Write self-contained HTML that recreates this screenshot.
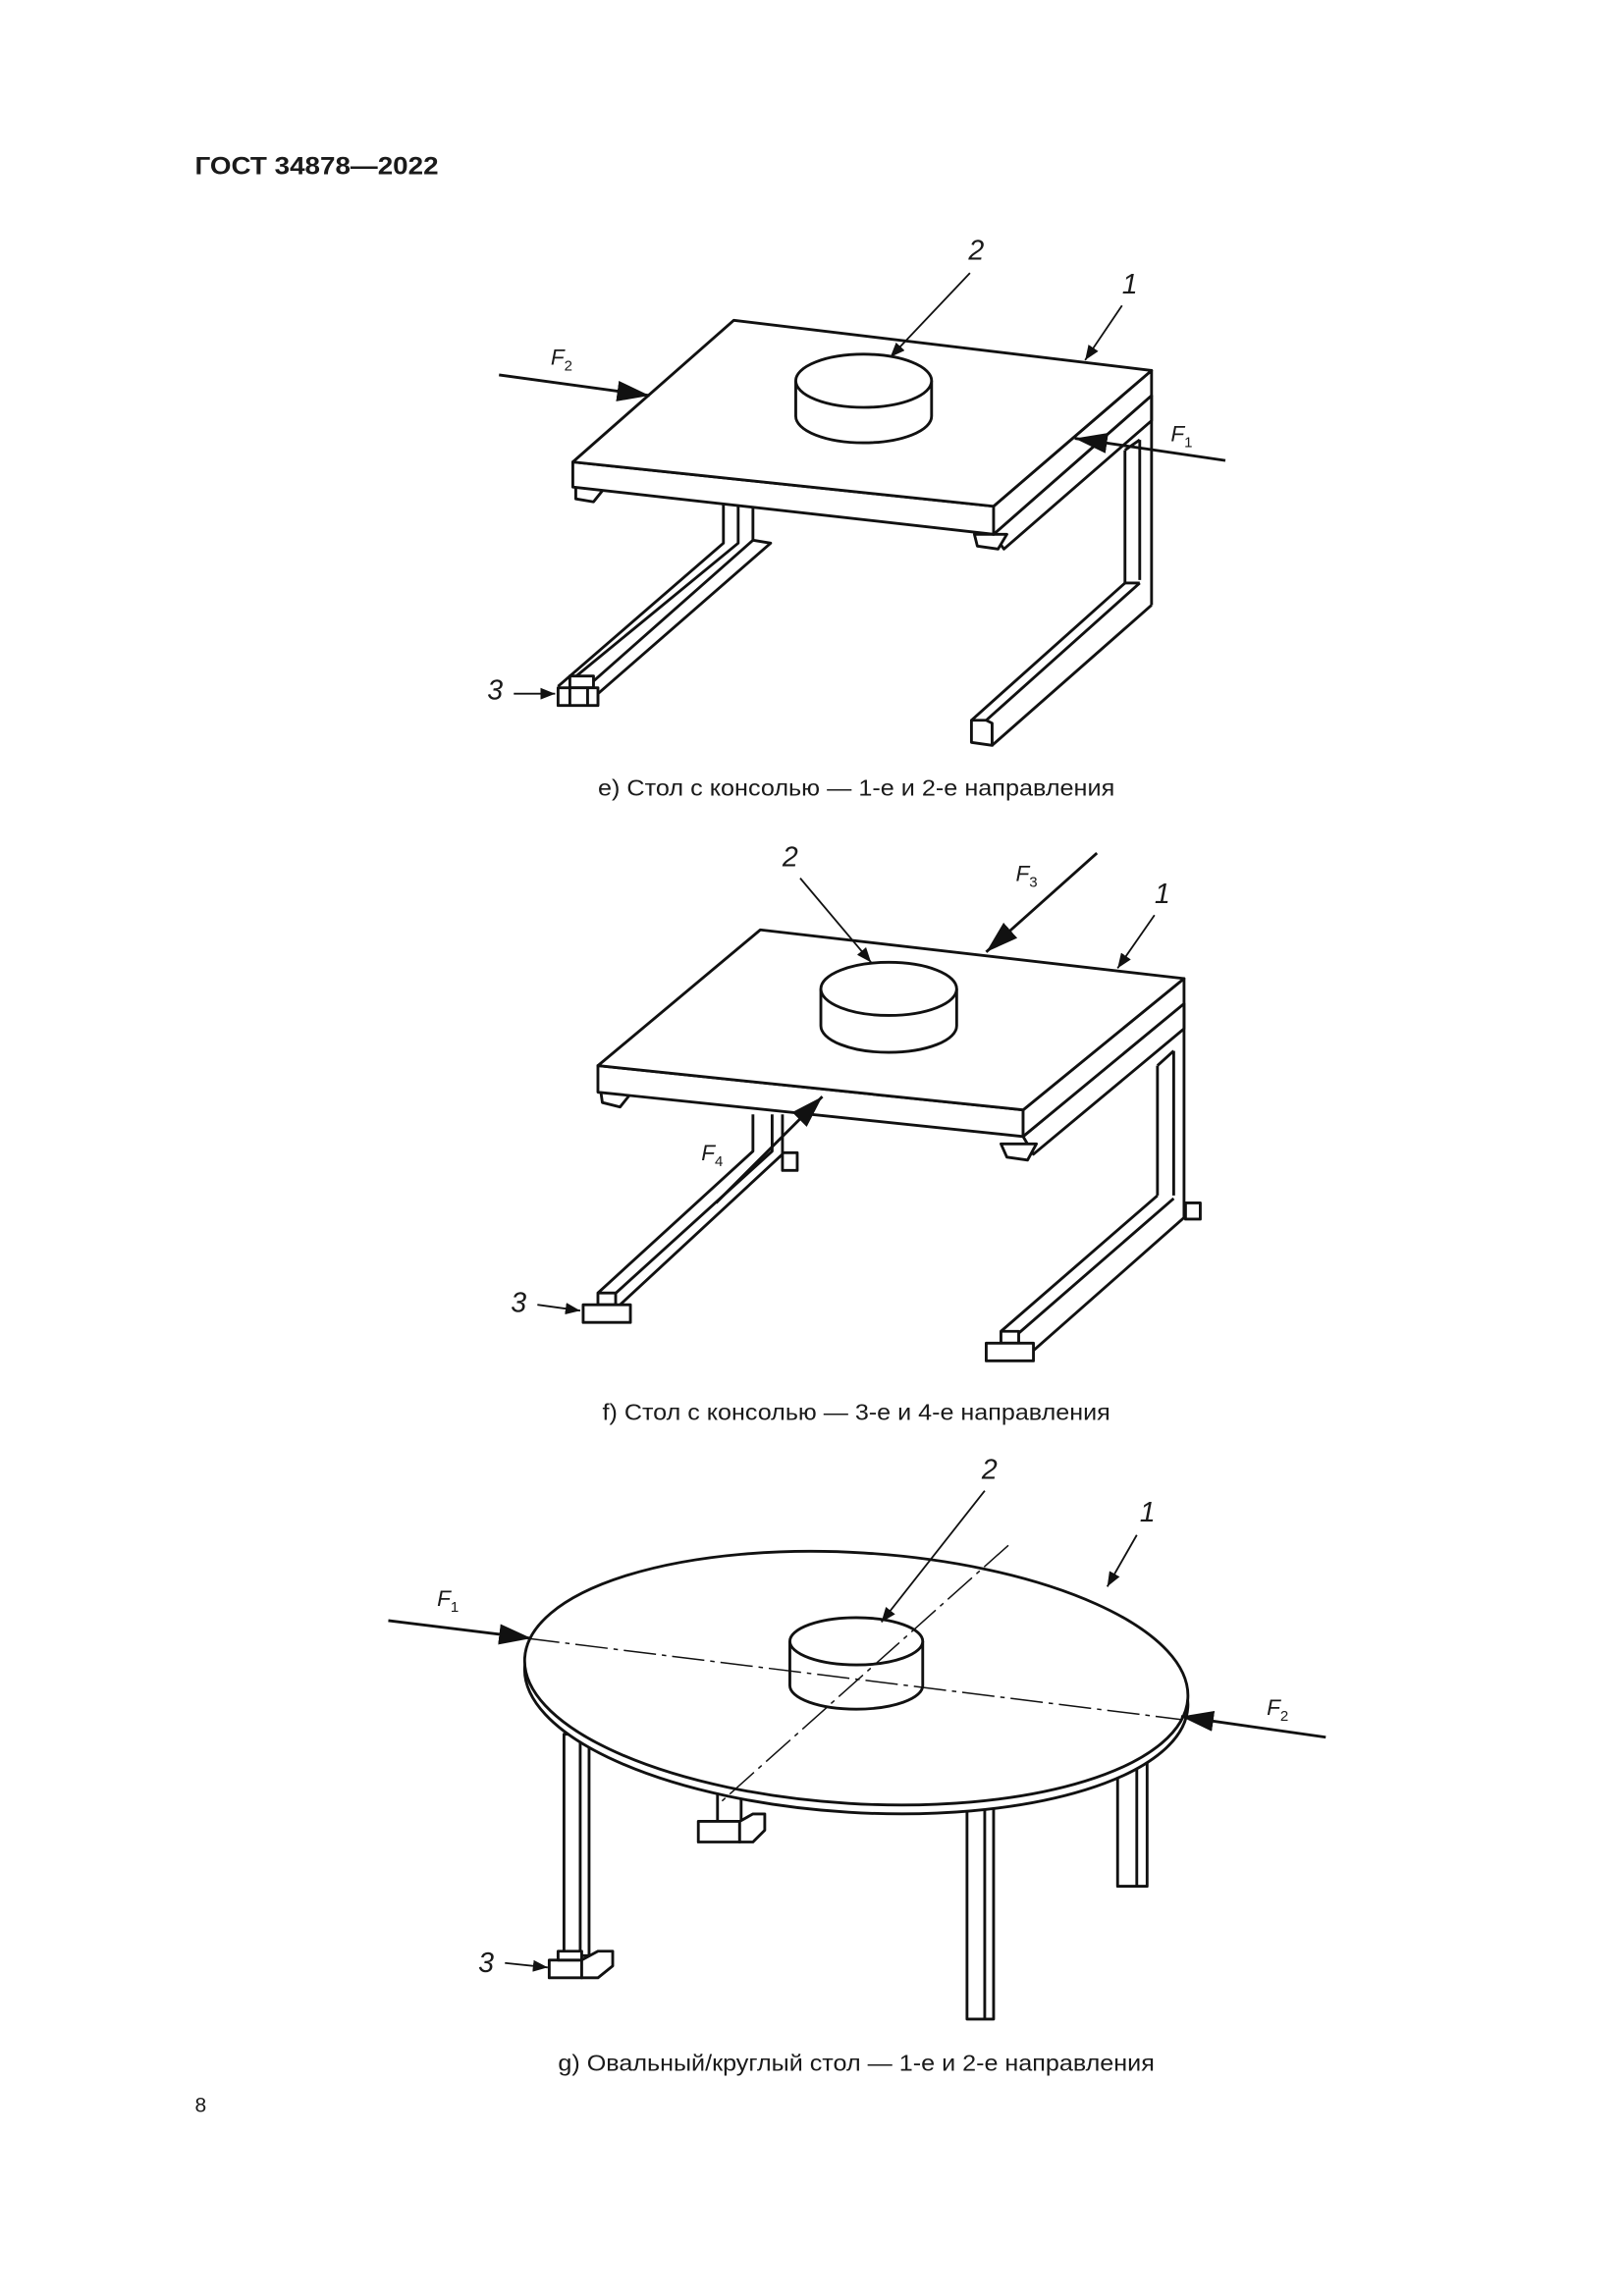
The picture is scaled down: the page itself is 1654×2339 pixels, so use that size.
<!DOCTYPE html>
<html><head><meta charset="utf-8"><style>
html,body{margin:0;padding:0;background:#fff;}
svg{display:block}
text{font-family:"Liberation Sans",Arial,sans-serif;fill:#1a1a1a}
</style></head><body>
<svg width="1654" height="2339" viewBox="0 0 1100 1555.6" xmlns="http://www.w3.org/2000/svg">
<defs>
<marker id="ah" markerWidth="10" markerHeight="8" refX="10" refY="4" orient="auto" markerUnits="userSpaceOnUse"><path d="M0,0 L10,4 L0,8 z" fill="#111"/></marker>
<marker id="big" markerWidth="22" markerHeight="14" refX="22" refY="7" orient="auto" markerUnits="userSpaceOnUse"><path d="M0,0 L22,7 L0,14 z" fill="#111"/></marker>
</defs>
<text x="132" y="118" font-size="16.5" font-weight="bold" textLength="165" lengthAdjust="spacingAndGlyphs">ГОСТ 34878—2022</text>
<text x="132" y="1431" font-size="14">8</text>

<g fill="#fff" stroke="#111" stroke-width="1.9" stroke-linejoin="round">
<!-- ===== Figure e ===== -->
<polygon points="673,362 780,268 780,285 680,372"/>
<line x1="780" y1="268" x2="780" y2="410"/>
<line x1="762" y1="305" x2="762" y2="395"/>
<line x1="772" y1="298" x2="772" y2="393"/>
<line x1="762" y1="305" x2="772" y2="298"/>
<line x1="762" y1="395" x2="658" y2="488"/>
<line x1="772" y1="395" x2="668" y2="488"/>
<line x1="780" y1="410" x2="672" y2="505"/>
<line x1="762" y1="395" x2="772" y2="395"/>
<polygon points="658,488 668,488 672,490 672,505 658,503"/>
<polyline fill="none" points="490,340 490,368 378,465"/>
<polyline fill="none" points="500,340 500,368 388,460"/>
<polyline fill="none" points="510,340 510,366 522,368 405,470 405,478"/>
<line x1="510" y1="366" x2="398" y2="465"/>
<rect x="386" y="458" width="16" height="8"/>
<rect x="378" y="466" width="27" height="12"/>
<line x1="386" y1="466" x2="386" y2="478"/><line x1="398" y1="466" x2="398" y2="478"/>
<polygon points="390,330 390,338 402,340 410,330"/>
<polygon points="660,362 662,370 676,372 682,362"/>
<polygon points="388,313 673,343 673,362 388,330"/>
<polygon points="673,343 780,251 780,268 673,362"/>
<polygon points="497,217 780,251 673,343 388,313"/>
<path d="M539,258 v24 a46,18 0 0 0 92,0 v-24"/>
<ellipse cx="585" cy="258" rx="46" ry="18"/>

<!-- ===== Figure f ===== -->
<polygon points="693,770 802,680 802,697 700,782"/>
<line x1="802" y1="680" x2="802" y2="825"/>
<line x1="784" y1="722" x2="784" y2="810"/>
<line x1="795" y1="712" x2="795" y2="810"/>
<line x1="784" y1="722" x2="795" y2="712"/>
<line x1="784" y1="810" x2="678" y2="902"/>
<line x1="795" y1="812" x2="688" y2="905"/>
<line x1="802" y1="825" x2="700" y2="915"/>
<rect x="678" y="902" width="12" height="8"/>
<rect x="668" y="910" width="32" height="12"/>
<rect x="803" y="815" width="10" height="11"/>
<polyline fill="none" points="510,755 510,780 405,876"/>
<polyline fill="none" points="523,755 523,780 415,878"/>
<polyline fill="none" points="530,755 530,782 420,884"/>
<rect x="405" y="876" width="12" height="8"/>
<rect x="395" y="884" width="32" height="12"/>
<rect x="530" y="781" width="10" height="12"/>
<polygon points="407,740 408,747 420,750 428,740"/>
<polygon points="678,775 682,784 696,786 702,775"/>
<polygon points="405,722 693,752 693,770 405,740"/>
<polygon points="693,752 802,663 802,680 693,770"/>
<polygon points="515,630 802,663 693,752 405,722"/>
<path d="M556,670 v25 a46,18 0 0 0 92,0 v-25"/>
<ellipse cx="602" cy="670" rx="46" ry="18"/>

<!-- ===== Figure g ===== -->
<rect x="757" y="1185" width="20" height="93"/><line x1="770" y1="1185" x2="770" y2="1278"/>
<rect x="382" y="1175" width="17" height="150"/><line x1="393" y1="1175" x2="393" y2="1325"/>
<rect x="372" y="1328" width="22" height="12"/>
<polygon points="394,1340 394,1328 405,1322 415,1322 415,1332 405,1340"/>
<rect x="378" y="1322" width="16" height="6"/>
<rect x="655" y="1218" width="18" height="150"/><line x1="667" y1="1218" x2="667" y2="1368"/>
<rect x="486" y="1212" width="16" height="22"/>
<rect x="473" y="1234" width="28" height="14"/>
<polygon points="501,1248 501,1234 510,1229 518,1229 518,1240 510,1248"/>
<ellipse cx="580" cy="1143" rx="225" ry="85" transform="rotate(3.5 580 1143)"/>
<ellipse cx="580" cy="1137" rx="225" ry="85" transform="rotate(3.5 580 1137)"/>
<path d="M535,1112 v30 a45,16 0 0 0 90,0 v-30"/>
<ellipse cx="580" cy="1112" rx="45" ry="16"/>
</g>

<g stroke="#111" stroke-width="1" stroke-dasharray="22,4,3,4" fill="none">
<line x1="357" y1="1110" x2="800" y2="1165"/>
<line x1="683" y1="1047" x2="487" y2="1222"/>
</g>

<g stroke="#111" stroke-width="1.2" fill="none">
<line x1="657" y1="185" x2="603" y2="242" marker-end="url(#ah)"/>
<line x1="760" y1="207" x2="735" y2="244" marker-end="url(#ah)"/>
<line x1="348" y1="470" x2="376" y2="470" marker-end="url(#ah)"/>
<line x1="542" y1="595" x2="590" y2="652" marker-end="url(#ah)"/>
<line x1="782" y1="620" x2="757" y2="656" marker-end="url(#ah)"/>
<line x1="364" y1="884" x2="393" y2="888" marker-end="url(#ah)"/>
<line x1="667" y1="1010" x2="597" y2="1099" marker-end="url(#ah)"/>
<line x1="770" y1="1040" x2="750" y2="1075" marker-end="url(#ah)"/>
<line x1="342" y1="1330" x2="371" y2="1333" marker-end="url(#ah)"/>
</g>
<g stroke="#111" stroke-width="1.9" fill="none">
<line x1="338" y1="254" x2="440" y2="268" marker-end="url(#big)"/>
<line x1="830" y1="312" x2="728" y2="297" marker-end="url(#big)"/>
<line x1="743" y1="578" x2="668" y2="645" marker-end="url(#big)"/>
<line x1="485" y1="815" x2="557" y2="743" marker-end="url(#big)"/>
<line x1="263" y1="1098" x2="360" y2="1110" marker-end="url(#big)"/>
<line x1="898" y1="1177" x2="800" y2="1163" marker-end="url(#big)"/>
</g>

<g font-size="19" font-style="italic">
<text x="656" y="176">2</text>
<text x="760" y="199">1</text>
<text x="330" y="474">3</text>
<text x="530" y="587">2</text>
<text x="782" y="612">1</text>
<text x="346" y="889">3</text>
<text x="665" y="1002">2</text>
<text x="772" y="1031">1</text>
<text x="324" y="1336">3</text>
</g>
<g font-size="15" font-style="italic">
<text x="373" y="247">F<tspan font-size="10" font-style="normal" dy="4">2</tspan></text>
<text x="793" y="299">F<tspan font-size="10" font-style="normal" dy="4">1</tspan></text>
<text x="688" y="597">F<tspan font-size="10" font-style="normal" dy="4">3</tspan></text>
<text x="475" y="786">F<tspan font-size="10" font-style="normal" dy="4">4</tspan></text>
<text x="296" y="1088">F<tspan font-size="10" font-style="normal" dy="4">1</tspan></text>
<text x="858" y="1162">F<tspan font-size="10" font-style="normal" dy="4">2</tspan></text>
</g>
<g font-size="15.5">
<text x="405" y="539" textLength="350" lengthAdjust="spacingAndGlyphs">e) Стол с консолью — 1-е и 2-е направления</text>
<text x="408" y="962" textLength="344" lengthAdjust="spacingAndGlyphs">f) Стол с консолью — 3-е и 4-е направления</text>
<text x="378" y="1403" textLength="404" lengthAdjust="spacingAndGlyphs">g) Овальный/круглый стол — 1-е и 2-е направления</text>
</g>
</svg>
</body></html>
